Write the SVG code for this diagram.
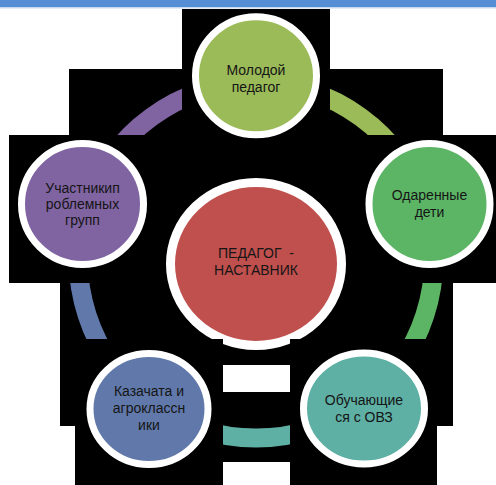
<svg xmlns="http://www.w3.org/2000/svg" width="496" height="485" viewBox="0 0 496 485">
  <style>
    .blk { fill: #000000; }
    .ring { fill: none; stroke-width: 19; }
    .node { stroke: #FFFFFF; stroke-width: 7; }
    .lbl { font-family: "Liberation Sans", Arial, sans-serif; font-size: 14px; fill: #151515; text-anchor: middle; white-space: pre; }
  </style>
  <rect x="0" y="0" width="496" height="485" fill="#FFFFFF"/>
  <g id="backdrop">
    <rect class="blk" x="69" y="69" width="374" height="214"/>
    <rect class="blk" x="60" y="283" width="163" height="143"/>
    <rect class="blk" x="290" y="283" width="163" height="143"/>
    <rect class="blk" x="223" y="392" width="67" height="70"/>
  </g>
  <g id="connectors">
    <path class="ring" stroke="#8064A2" d="M87.19 205.65 A177.5 177.5 0 0 1 256 83"/>
    <path class="ring" stroke="#9BBB59" d="M256 83 A177.5 177.5 0 0 1 424.81 205.65"/>
    <path class="ring" stroke="#5CB565" d="M424.81 205.65 A177.5 177.5 0 0 1 360.33 404.1"/>
    <path class="ring" stroke="#5EAFA4" d="M360.33 404.1 A177.5 177.5 0 0 1 151.67 404.1"/>
    <path class="ring" stroke="#6079AA" d="M151.67 404.1 A177.5 177.5 0 0 1 87.19 205.65"/>
  </g>
  <g id="node-top">
    <rect class="blk" x="182" y="9" width="148" height="141"/>
    <ellipse class="node" cx="256" cy="75.8" rx="60.5" ry="59" fill="#9BBB59"/>
    <text class="lbl" x="256" y="75">Молодой</text>
    <text class="lbl" x="256" y="91.5">педагог</text>
  </g>
  <g id="node-right">
    <rect class="blk" x="355" y="135" width="141" height="148"/>
    <ellipse class="node" cx="429.5" cy="204" rx="60.5" ry="60.5" fill="#5CB565"/>
    <text class="lbl" x="429.5" y="200">Одаренные</text>
    <text class="lbl" x="429.5" y="216.7">дети</text>
  </g>
  <g id="node-left">
    <rect class="blk" x="9" y="135" width="148" height="148"/>
    <ellipse class="node" cx="82.5" cy="204" rx="61" ry="60.5" fill="#8064A2"/>
    <text class="lbl" x="82.5" y="192.5">Участникип</text>
    <text class="lbl" x="82.5" y="208.7">роблемных</text>
    <text class="lbl" x="82.5" y="225">групп</text>
  </g>
  <g id="node-center">
    <rect class="blk" x="157" y="170" width="200" height="195"/>
    <ellipse cx="256" cy="264" rx="85.5" ry="81.5" fill="#C0504D" stroke="#FFFFFF" stroke-width="9"/>
    <text class="lbl" x="256" y="257.7">ПЕДАГОГ  -</text>
    <text class="lbl" x="256" y="275">НАСТАВНИК</text>
  </g>
  <g id="node-bottom-left">
    <rect class="blk" x="75" y="339" width="148" height="146"/>
    <ellipse class="node" cx="149" cy="409" rx="59" ry="55.5" fill="#6079AA"/>
    <text class="lbl" x="149" y="396">Казачата и</text>
    <text class="lbl" x="149" y="412.7">агроклассн</text>
    <text class="lbl" x="149" y="430">ики</text>
  </g>
  <g id="node-bottom-right">
    <rect class="blk" x="290" y="339" width="147" height="146"/>
    <ellipse class="node" cx="364" cy="408.5" rx="60.5" ry="55.5" fill="#5EAFA4"/>
    <text class="lbl" x="364" y="405">Обучающие</text>
    <text class="lbl" x="364" y="421.7">ся с ОВЗ</text>
  </g>
  <g id="top-bar">
    <rect x="0" y="0" width="496" height="7.5" fill="#558ED5"/>
    <rect x="0" y="7.5" width="496" height="1.5" fill="#E4ECF7"/>
  </g>
</svg>
